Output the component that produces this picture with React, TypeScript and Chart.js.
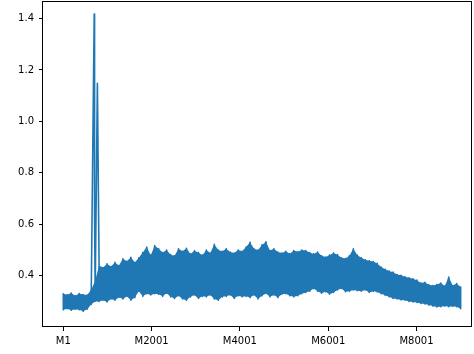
import React, { useEffect, useRef } from 'react';
import { Chart, registerables } from 'chart.js';

Chart.register(...registerables);

// Each column covers COLUMN_STEP samples
const COLUMN_STEP = 90;

const upperEnvelope = [
  0.330, 0.326, 0.333, 0.322, 0.331, 0.327, 0.325, 0.345, 0.380, 0.440,
  0.432, 0.446, 0.436, 0.452, 0.440, 0.466, 0.456, 0.472, 0.452, 0.470,
  0.490, 0.512, 0.480, 0.517, 0.505, 0.490, 0.500, 0.482, 0.478, 0.505,
  0.495, 0.507, 0.485, 0.497, 0.490, 0.480, 0.500, 0.488, 0.522, 0.500,
  0.495, 0.505, 0.492, 0.488, 0.500, 0.495, 0.512, 0.530, 0.505, 0.500,
  0.520, 0.532, 0.498, 0.505, 0.492, 0.488, 0.495, 0.486, 0.498, 0.493,
  0.500, 0.498, 0.490, 0.485, 0.492, 0.478, 0.473, 0.480, 0.488, 0.482,
  0.470, 0.467, 0.478, 0.505, 0.480, 0.470, 0.462, 0.458, 0.455, 0.448,
  0.434, 0.425, 0.418, 0.414, 0.405, 0.402, 0.396, 0.392, 0.388, 0.383,
  0.372, 0.375, 0.365, 0.362, 0.366, 0.372, 0.360, 0.395, 0.362, 0.370,
  0.356,
];

const lowerEnvelope = [
  0.268, 0.272, 0.266, 0.270, 0.268, 0.262, 0.270, 0.288, 0.300, 0.300,
  0.305, 0.298, 0.310, 0.305, 0.316, 0.310, 0.320, 0.305, 0.315, 0.340,
  0.320, 0.330, 0.325, 0.330, 0.328, 0.320, 0.332, 0.318, 0.312, 0.322,
  0.310, 0.305, 0.318, 0.325, 0.312, 0.320, 0.318, 0.325, 0.310, 0.305,
  0.318, 0.320, 0.325, 0.312, 0.322, 0.318, 0.320, 0.315, 0.325, 0.310,
  0.322, 0.331, 0.318, 0.325, 0.315, 0.328, 0.330, 0.322, 0.318, 0.322,
  0.330, 0.335, 0.340, 0.350, 0.340, 0.332, 0.338, 0.328, 0.335, 0.345,
  0.350, 0.338, 0.340, 0.345, 0.342, 0.340, 0.345, 0.335, 0.340, 0.337,
  0.330, 0.324, 0.318, 0.312, 0.310, 0.306, 0.305, 0.300, 0.298, 0.296,
  0.292, 0.290, 0.286, 0.282, 0.279, 0.280, 0.282, 0.280, 0.281, 0.280,
  0.272,
];

// narrow spikes near M700: [index, value]
const spikeIndex = [700, 708, 772];
const spikeValue = [1.417, 0.628, 1.148];

const xTickIndex = [0, 2000, 4000, 6000, 8000];
const xTickLabels = ['M1', 'M2001', 'M4001', 'M6001', 'M8001'];
const yTickValues = [0.4, 0.6, 0.8, 1.0, 1.2, 1.4];

const BLUE = '#1f77b4';

function upperPoints() {
  return upperEnvelope.map((u, k) => ({ x: k * COLUMN_STEP, y: u }));
}
function lowerPoints() {
  return lowerEnvelope.map((v, k) => ({ x: k * COLUMN_STEP, y: v }));
}
function zigzagPoints() {
  const pts: { x: number; y: number }[] = [...upperPoints(), ...lowerPoints()];
  spikeIndex.forEach((ix, i) => pts.push({ x: ix, y: spikeValue[i] }));
  // stable sort keeps upper before lower at the same index
  pts.sort((a, b) => a.x - b.x);
  return pts;
}

const framePlugin = {
  id: 'frame',
  afterDatasetsDraw(chart: any) {
    const { ctx, chartArea } = chart;
    ctx.save();
    ctx.strokeStyle = '#000';
    ctx.lineWidth = 1;
    const l = Math.round(chartArea.left) - 0.5;
    const t = Math.round(chartArea.top) + 0.5;
    const r = Math.round(chartArea.right) - 0.5;
    const b = Math.round(chartArea.bottom) - 0.5;
    ctx.strokeRect(l, t, r - l, b - t);
    ctx.restore();
  },
};

export default function App() {
  const ref = useRef<HTMLCanvasElement>(null);
  useEffect(() => {
    if (!ref.current) return;
    const font = { family: 'DejaVu Sans', size: 10 };
    const chart = new Chart(ref.current, {
      type: 'line',
      data: {
        datasets: [
          {
            data: upperPoints(),
            borderColor: 'rgba(0,0,0,0)',
            borderWidth: 0,
            pointRadius: 0,
            fill: false,
            tension: 0,
          },
          {
            data: lowerPoints(),
            borderColor: 'rgba(0,0,0,0)',
            backgroundColor: BLUE,
            borderWidth: 0,
            pointRadius: 0,
            fill: '-1',
            tension: 0,
          },
          {
            data: zigzagPoints(),
            borderColor: BLUE,
            borderWidth: 1.6,
            borderJoinStyle: 'round',
            pointRadius: 0,
            fill: false,
            tension: 0,
          },
        ],
      },
      options: {
        animation: false,
        responsive: false,
        parsing: false as any,
        layout: { padding: { left: 0, right: 2, top: 1, bottom: 0 } },
        plugins: { legend: { display: false }, tooltip: { enabled: false } },
        scales: {
          x: {
            type: 'linear',
            min: -460,
            max: 9257,
            afterBuildTicks: (s: any) => {
              s.ticks = xTickIndex.map((v) => ({ value: v }));
            },
            afterFit: (s: any) => {
              s.height = 27;
              s.paddingLeft = 0;
              s.paddingRight = 0;
              s.paddingTop = 0;
              s.paddingBottom = 0;
            },
            grid: {
              display: true,
              drawOnChartArea: false,
              drawTicks: true,
              tickLength: 4,
              tickColor: '#000',
              tickWidth: 1,
            },
            border: { display: false },
            ticks: {
              autoSkip: false,
              maxRotation: 0,
              padding: 4,
              color: '#000',
              font,
              callback: (_v: any, i: number) => xTickLabels[i],
            },
          },
          y: {
            type: 'linear',
            min: 0.2008,
            max: 1.468,
            afterBuildTicks: (s: any) => {
              s.ticks = yTickValues.map((v) => ({ value: v }));
            },
            afterFit: (s: any) => {
              s.width = 43;
              s.paddingLeft = 0;
              s.paddingRight = 0;
              s.paddingTop = 0;
              s.paddingBottom = 0;
            },
            grid: {
              display: true,
              drawOnChartArea: false,
              drawTicks: true,
              tickLength: 4,
              tickColor: '#000',
              tickWidth: 1,
            },
            border: { display: false },
            ticks: {
              autoSkip: false,
              padding: 5,
              color: '#000',
              font,
              callback: (_v: any, i: number) => yTickValues[i].toFixed(1),
            },
          },
        },
      },
      plugins: [framePlugin],
    });
    return () => chart.destroy();
  }, []);
  return (
    <div style={{ position: 'fixed', left: 0, top: 0, width: 474, height: 354, background: '#fff' }}>
      <canvas ref={ref} width={474} height={354} style={{ display: 'block', width: 474, height: 354 }} />
    </div>
  );
}
